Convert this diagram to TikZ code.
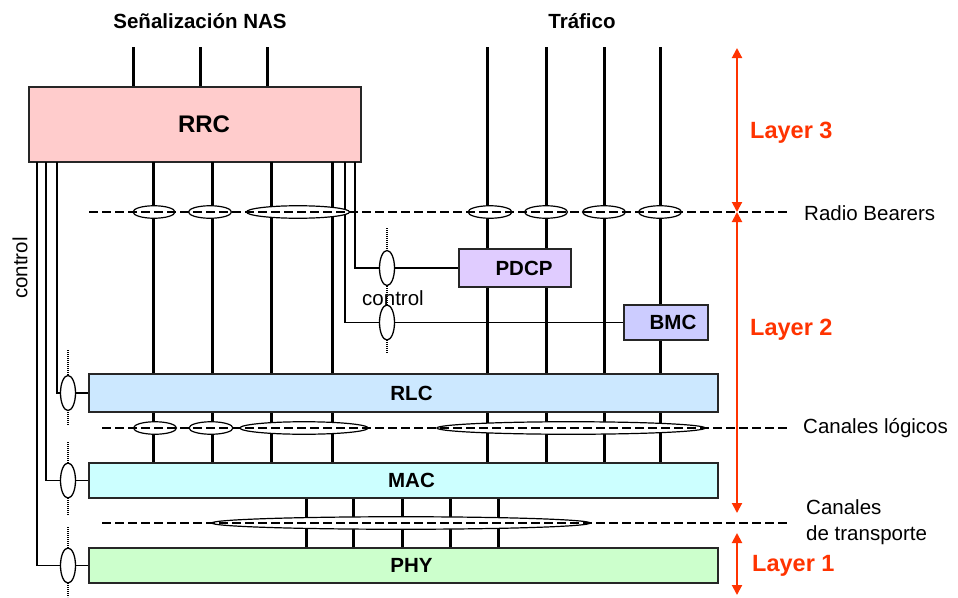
\documentclass[tikz,border=0pt]{standalone}
\usepackage{fontspec}
\setmainfont{Liberation Sans}
\usetikzlibrary{arrows.meta,shapes.geometric}

\definecolor{rrcfill}{HTML}{FFCCCC}
\definecolor{rlcfill}{HTML}{CCE8FF}
\definecolor{macfill}{HTML}{CCFFFF}
\definecolor{phyfill}{HTML}{CCFFCC}
\definecolor{pdcpfill}{HTML}{E0CCFF}
\definecolor{bmcfill}{HTML}{CCCCFF}
\definecolor{layerred}{HTML}{FF3300}

\begin{document}
\begin{tikzpicture}[x=1pt,y=-1pt,
  layerbox/.style={draw=black!85, line width=1.2pt, inner sep=0pt,
    font=\fontsize{20.5}{24}\selectfont\bfseries},
  chan/.style={line width=3pt},
  ctl/.style={line width=1.3pt},
  bearer/.style={draw, fill=white, line width=1.2pt, ellipse, inner sep=0pt,
    minimum height=12.5pt},
  sap/.style={draw, fill=white, line width=1.3pt, ellipse, inner sep=0pt,
    minimum width=15pt, minimum height=35pt},
  ticks/.style={line width=2pt, dash pattern=on 1.2pt off 0.8pt},
  boundary/.style={line width=2pt, dash pattern=on 9pt off 4pt},
  lab/.style={font=\fontsize{20.5}{26}\selectfont, anchor=west, inner sep=0pt, align=left},
  head/.style={font=\fontsize{20.5}{24}\selectfont\bfseries, inner sep=0pt},
  layerarrow/.style={draw=layerred, line width=2pt,
    {Triangle[length=10pt,width=10pt]}-{Triangle[length=10pt,width=10pt]}},
  layertext/.style={text=layerred, font=\fontsize{23.5}{28}\selectfont\bfseries,
    anchor=west, inner sep=0pt},
]
\path[use as bounding box] (0,0) rectangle (958,597);

% ---------- protocol entities ----------
\node[layerbox, fill=rrcfill, minimum width=332pt, minimum height=75pt,
  font=\fontsize{24}{28}\selectfont\bfseries] (rrc) at (195,124.5) {\hspace{18pt}RRC};
\node[layerbox, fill=rlcfill, minimum width=629pt, minimum height=38pt] (rlc) at (403.5,393) {\hspace{16pt}RLC};
\node[layerbox, fill=macfill, minimum width=629pt, minimum height=35pt] (mac) at (403.5,480.5) {\hspace{16pt}MAC};
\node[layerbox, fill=phyfill, minimum width=629pt, minimum height=35pt] (phy) at (403.5,565.5) {\hspace{16pt}PHY};

% ---------- anchor points of the channels ----------
\coordinate (n1) at (133,47);
\coordinate (n2) at (200,47);
\coordinate (n3) at (267,47);
\coordinate (t1) at (487,47);
\coordinate (t2) at (546,47);
\coordinate (t3) at (604,47);
\coordinate (t4) at (660,47);
\coordinate (s1) at (153,162);
\coordinate (s2) at (212,162);
\coordinate (s3) at (271,162);
\coordinate (s4) at (332,162);
\coordinate (c1) at (37,162);
\coordinate (c2) at (46,162);
\coordinate (c3) at (57,162);
\coordinate (cb) at (345,162);
\coordinate (cp) at (355,162);
\coordinate (tr1) at (306,500);
\coordinate (tr2) at (353,500);
\coordinate (tr3) at (402,500);
\coordinate (tr4) at (450,500);
\coordinate (tr5) at (498,500);

% NAS signalling into RRC
\foreach \n in {n1,n2,n3} \draw[chan] (\n) -- (\n |- rrc.north);

% signalling radio bearers RRC -> RLC -> MAC
\foreach \s in {s1,s2,s3,s4} {
  \draw[chan] (\s) -- (\s |- rlc.north);
  \draw[chan] (\s |- rlc.south) -- (\s |- mac.north);
}

% traffic radio bearers down to MAC
\foreach \t in {t1,t2,t3,t4} \draw[chan] (\t) -- (\t |- mac.north);

% transport channels MAC -> PHY
\foreach \t in {tr1,tr2,tr3,tr4,tr5} \draw[chan] (\t |- mac.south) -- (\t |- phy.north);

% redraw layer boxes over the traffic lines
\node[layerbox, fill=rlcfill, minimum width=629pt, minimum height=38pt] at (rlc) {\hspace{16pt}RLC};
\node[layerbox, fill=pdcpfill, minimum width=112pt, minimum height=38pt] (pdcp) at (515,268) {\hspace{18pt}PDCP};
\node[layerbox, fill=bmcfill, minimum width=84pt, minimum height=35pt] (bmc) at (666,322.5) {\hspace{14pt}BMC};

% ---------- control service access points ----------
\draw[ticks] (68,350) -- (68,425);
\draw[ticks] (68,442) -- (68,515);
\draw[ticks] (68,527) -- (68,597);
\draw[ticks] (387,228) -- (387,353);

\node[sap] (srlc) at (68,393) {};
\node[sap] (smac) at (68,480.5) {};
\node[sap] (sphy) at (68,565.5) {};
\node[sap] (spdcp) at (387,268) {};
\node[sap] (sbmc) at (387,322.5) {};

\draw[ctl] (c3) |- (srlc.west);
\draw[ctl] (c2) |- (smac.west);
\draw[ctl] (c1) |- (sphy.west);
\draw[ctl] (srlc.east) -- (rlc.west);
\draw[ctl] (smac.east) -- (mac.west);
\draw[ctl] (sphy.east) -- (phy.west);
\draw[ctl] (cp) |- (spdcp.west);
\draw[ctl] (spdcp.east) -- (pdcp.west);
\draw[ctl] (cb) |- (sbmc.west);
\draw[ctl] (sbmc.east) -- (bmc.west);

% ---------- channel groupings ----------
\node[bearer, minimum width=42pt] (rb1) at (154,212) {};
\node[bearer, minimum width=43pt] (rb2) at (210,212) {};
\node[bearer, minimum width=103pt] (rb3) at (298,212) {};
\node[bearer, minimum width=44pt] (rb4) at (490,212) {};
\node[bearer, minimum width=43pt] (rb5) at (546,212) {};
\node[bearer, minimum width=43pt] (rb6) at (604,212) {};
\node[bearer, minimum width=43pt] (rb7) at (660,212) {};

\node[bearer, minimum width=43pt] (lc1) at (155,428) {};
\node[bearer, minimum width=44pt] (lc2) at (211,428) {};
\node[bearer, minimum width=128pt] (lc3) at (304,428) {};
\node[bearer, minimum width=268pt] (lc4) at (571,428) {};

\node[bearer, minimum width=378pt] (tc1) at (401,523) {};

% service boundaries
\coordinate (rbL) at (89,212);  \coordinate (rbR) at (787,212);
\coordinate (lcL) at (102,428); \coordinate (lcR) at (787,428);
\coordinate (tcL) at (102,523); \coordinate (tcR) at (787,523);
\draw[boundary] (rbL) -- (rbR);
\draw[boundary] (lcL) -- (lcR);
\draw[boundary] (tcL) -- (tcR);

% ---------- layer extents ----------
\coordinate (l3top) at (737,48);
\coordinate (l3bot) at (737,212);
\coordinate (l2bot) at (737,513);
\coordinate (l1top) at (737,533);
\coordinate (l1bot) at (737,595);
\draw[layerarrow] (l3top) -- (l3bot);
\draw[layerarrow] (l3bot) -- (l2bot);
\draw[layerarrow] (l1top) -- (l1bot);

% ---------- labels ----------
\node[head] (nas) at (200,21) {Señalización NAS};
\node[head] (traf) at (582,21) {Tráfico};
\node[lab] (rbtxt) at (804,213) {Radio Bearers};
\node[lab] (lctxt) at (803,428) {Canales lógicos};
\node[lab] (tctxt) at (806,522) {Canales\\de transporte};
\node[lab, anchor=center] (ctl1) at (393,298) {control};
\node[lab, anchor=center, rotate=90] (ctl2) at (20,268) {control};
\node[layertext] (lay3) at (750,133) {Layer 3};
\node[layertext] (lay2) at (750,330) {Layer 2};
\node[layertext] (lay1) at (752,566) {Layer 1};
\end{tikzpicture}
\end{document}
